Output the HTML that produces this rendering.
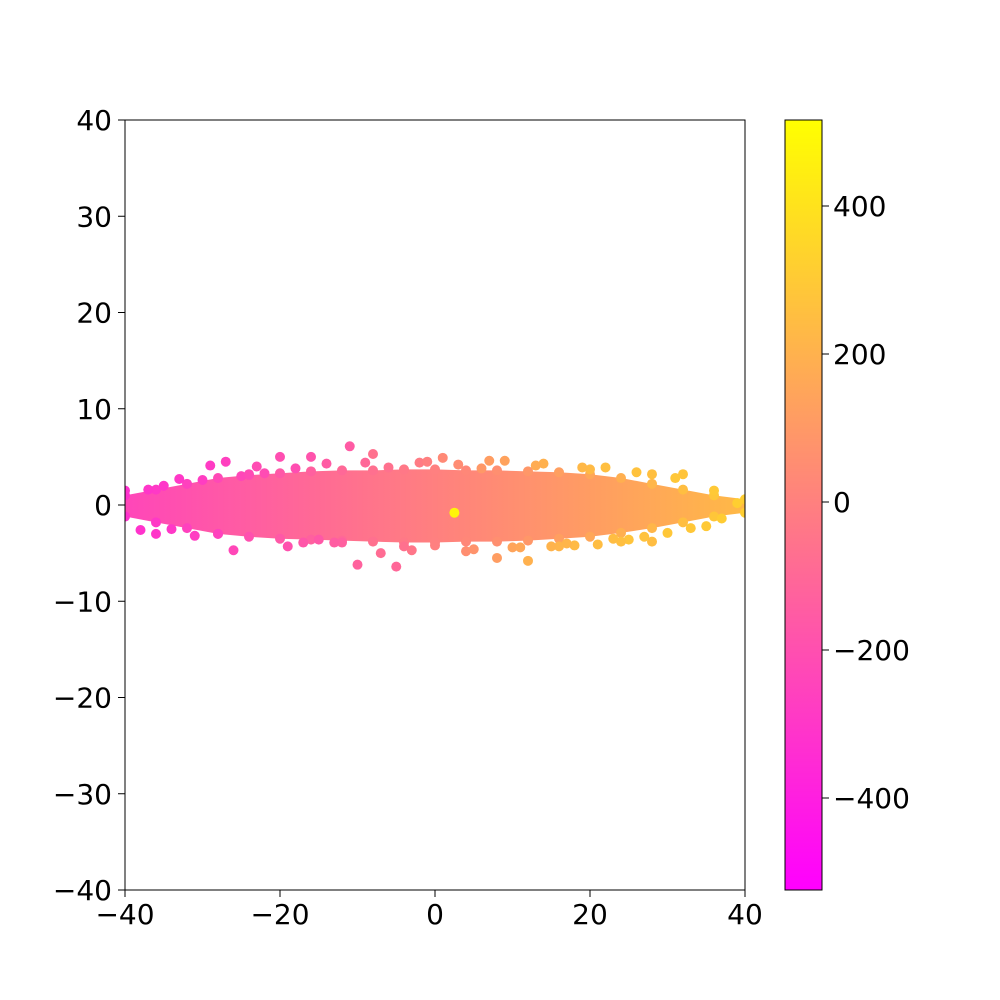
<!DOCTYPE html>
<html><head><meta charset="utf-8"><style>
body{margin:0;background:#fff;}
svg{display:block;font-family:"DejaVu Sans","Liberation Sans",sans-serif;}
</style></head><body>
<svg id="chart" width="1000" height="1000">
<defs>
<linearGradient id="cbar" x1="0" y1="1" x2="0" y2="0">
<stop offset="0" stop-color="rgb(255,0,255)"/><stop offset="1" stop-color="rgb(255,255,0)"/>
</linearGradient>
<linearGradient id="bandgrad" gradientUnits="userSpaceOnUse" x1="125" y1="0" x2="745" y2="0">
<stop offset="0" stop-color="rgb(255,70,185)"/>
<stop offset="0.5" stop-color="rgb(255,128,127)"/>
<stop offset="1" stop-color="rgb(255,185,70)"/>
</linearGradient>
<clipPath id="plotclip"><rect x="125" y="120" width="620" height="770"/></clipPath>
</defs>
<g id="plot" clip-path="url(#plotclip)"></g>
<rect x="125" y="120" width="620" height="770" fill="none" stroke="#000" stroke-width="1"/>
<g id="xticks"></g>
<g id="yticks"></g>
<rect x="785" y="120" width="37" height="770" fill="url(#cbar)" stroke="#000" stroke-width="1"/>
<g id="cticks"></g>
</svg>
<script>
const xTicks=[-40,-20,0,20,40];
const yTicks=[40,30,20,10,0,-10,-20,-30,-40];
const cTicks=[400,200,0,-200,-400];
const envX=[-40,-36,-32,-28,-24,-20,-16,-12,-8,-4,0,4,8,12,16,20,24,28,32,36,40];
const envTop=[1.0,1.6,2.2,2.8,3.1,3.3,3.5,3.6,3.6,3.7,3.7,3.6,3.6,3.5,3.4,3.2,2.8,2.2,1.6,1.0,0.6];
const envBot=[-1.2,-1.8,-2.4,-3.0,-3.3,-3.5,-3.6,-3.7,-3.8,-3.9,-3.9,-3.8,-3.8,-3.7,-3.5,-3.3,-2.9,-2.4,-1.8,-1.2,-0.8];
const ptX=[-11,-10,-5,-27,-29,-20,-26,-36,-40,-16,-8,1,12,8,28,32,28,39,2.5,-33,-31,-23,-19,-14,-7,-3,4,7,10,14,18,22,25,30,35,-38,-34,-25,-17,-9,-2,5,9,16,20,24,26,33,-12,-6,0,6,13,19,23,-22,-15,-28,-1,3,11,17,21,27,31,36,-37,-30,-24,-18,-13,-4,-35,37,15];
const ptY=[6.1,-6.2,-6.4,4.5,4.1,5.0,-4.7,-3.0,1.5,5.0,5.3,4.9,-5.8,-5.5,3.2,3.2,-3.8,0.2,-0.8,2.7,-3.2,4.0,-4.3,4.3,-5.0,-4.7,-4.8,4.6,-4.4,4.3,-4.2,3.9,-3.6,-2.9,-2.2,-2.6,-2.5,3.0,-3.9,4.4,4.4,-4.6,4.6,-4.3,3.7,-3.8,3.4,-2.4,-3.9,3.9,-4.2,3.8,4.1,3.9,-3.5,3.3,-3.6,-3.0,4.5,4.2,-4.4,-4.0,-4.1,-3.3,2.8,1.5,1.6,2.6,3.2,3.8,-3.9,-4.3,2.0,-1.4,-4.3];
const ptC=[-150,-120,-100,-260,-280,-200,-230,-300,-320,-180,-60,40,200,120,260,280,250,320,480,-290,-270,-210,-190,-150,-80,-40,60,120,150,200,240,260,280,290,300,-310,-290,-230,-170,-100,-20,80,140,220,240,260,270,290,-130,-60,0,100,180,230,250,-210,-160,-250,0,50,160,220,250,270,290,300,-300,-270,-220,-200,-140,-60,-300,310,210];

const NS="http://www.w3.org/2000/svg";
const sx=v=>125+(v+40)*620/80;
const sy=v=>890-(v+40)*770/80;
const sc=v=>502-v*0.74;
const col=c=>{let t=Math.max(0,Math.min(1,(c+520)/1040));return `rgb(255,${Math.round(255*t)},${Math.round(255*(1-t))})`;};
function mk(tag,attrs,parent){const e=document.createElementNS(NS,tag);for(const k in attrs)e.setAttribute(k,attrs[k]);parent.appendChild(e);return e;}

const plot=document.getElementById('plot');
let d='M'+envX.map((x,i)=>sx(x)+','+sy(envTop[i])).join(' L');
for(let i=envX.length-1;i>=0;i--)d+=' L'+sx(envX[i])+','+sy(envBot[i]);
const band=mk('path',{d:d+'Z',fill:'url(#bandgrad)'},plot);


envX.forEach((x,i)=>{
  [envTop[i],envBot[i]].forEach(y=>{
    const e=mk('circle',{cx:sx(x),cy:sy(y),r:5,fill:col(8*x)},plot);
    
    
  });
});
ptX.forEach((x,i)=>{
  const e=mk('circle',{cx:sx(x),cy:sy(ptY[i]),r:5,fill:col(ptC[i])},plot);
  
  
});

const fmt=v=>v<0?'\u2212'+(-v):''+v;
const xg=document.getElementById('xticks');
xTicks.forEach(v=>{
  mk('line',{x1:sx(v),x2:sx(v),y1:890,y2:897,stroke:'#000'},xg);
  const t=mk('text',{x:sx(v),y:924,'font-size':28,'text-anchor':'middle'},xg);t.textContent=fmt(v);
  
  
});
const yg=document.getElementById('yticks');
yTicks.forEach(v=>{
  mk('line',{x1:118,x2:125,y1:sy(v),y2:sy(v),stroke:'#000'},yg);
  const t=mk('text',{x:112,y:sy(v)+10,'font-size':28,'text-anchor':'end'},yg);t.textContent=fmt(v);
  
  
});
const cg=document.getElementById('cticks');
cTicks.forEach(v=>{
  mk('line',{x1:822,x2:829,y1:sc(v),y2:sc(v),stroke:'#000'},cg);
  const t=mk('text',{x:833,y:sc(v)+10,'font-size':28},cg);t.textContent=fmt(v);
  
  
});
</script>
</body></html>
